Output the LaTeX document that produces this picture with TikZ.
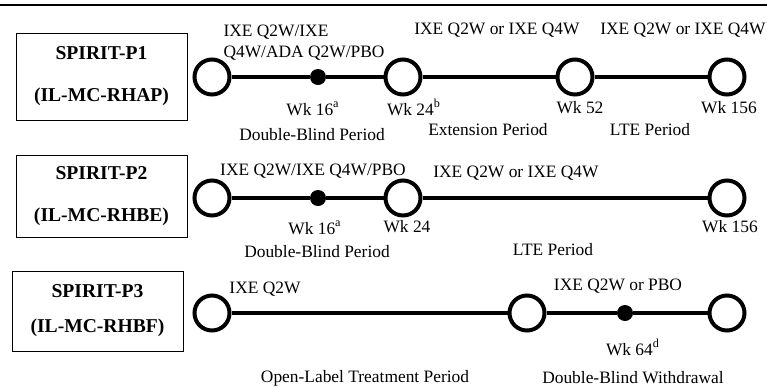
\documentclass[tikz,border=0pt]{standalone}
\usepackage{fontspec}
\setmainfont{Liberation Serif}
\begin{document}
\begin{tikzpicture}[x=0.5pt,y=-0.5pt,
    visit/.style={circle, draw, line width=2pt, fill=white, minimum size=17.5pt, inner sep=0pt},
    midvisit/.style={circle, fill=black, minimum size=8pt, inner sep=0pt},
    study/.style={draw, line width=0.5pt, minimum width=85.5pt, align=center, inner sep=0pt,
        font=\fontsize{9.8}{11}\selectfont\bfseries},
    lbl/.style={anchor=base, inner sep=0pt, font=\fontsize{8.7}{10.5}\selectfont},
    timeline/.style={line width=1.6pt}]

    \useasboundingbox (0,0) rectangle (767,387);
    \draw[line width=1pt] (0,5) -- (767,5);

    % SPIRIT-P1
    \node[study, minimum height=43.5pt] (box1) at (101.5,76.5) {SPIRIT-P1\\[10pt](IL-MC-RHAP)};
    \node[visit] (a0) at (212,77) {};
    \node[midvisit] (a16) at (318,77) {};
    \node[visit] (a24) at (403,77) {};
    \node[visit] (a52) at (575,77) {};
    \node[visit] (a156) at (727,77) {};
    \draw[timeline] (a0) -- (a16) -- (a24) -- (a52) -- (a156);
    \node[anchor=center, align=left, inner sep=0pt, font=\fontsize{8.7}{10.5}\selectfont] (trt1) at (304,43) {IXE Q2W/IXE\\Q4W/ADA Q2W/PBO};
    \node[lbl] (ext1) at (497,34) {IXE Q2W or IXE Q4W};
    \node[lbl] (lte1) at (683,34) {IXE Q2W or IXE Q4W};
    \node[lbl] (wk16a) at (313,115) {Wk 16\textsuperscript{a}};
    \node[lbl] (wk24a) at (414,115) {Wk 24\textsuperscript{b}};
    \node[lbl] (wk52a) at (580,113) {Wk 52};
    \node[lbl] (wk156a) at (729,113) {Wk 156};
    \node[lbl] (db1) at (312,140) {Double-Blind Period};
    \node[lbl] (ep1) at (488,135) {Extension Period};
    \node[lbl] (lp1) at (650,135) {LTE Period};

    % SPIRIT-P2
    \node[study, minimum height=41pt] (box2) at (101.5,196) {SPIRIT-P2\\[10pt](IL-MC-RHBE)};
    \node[visit] (b0) at (212,198) {};
    \node[midvisit] (b16) at (318,198) {};
    \node[visit] (b24) at (403,198) {};
    \node[visit] (b156) at (727,198) {};
    \draw[timeline] (b0) -- (b16) -- (b24) -- (b156);
    \node[lbl] (trt2) at (313,175) {IXE Q2W/IXE Q4W/PBO};
    \node[lbl] (lte2) at (516,177) {IXE Q2W or IXE Q4W};
    \node[lbl] (wk16b) at (315,234) {Wk 16\textsuperscript{a}};
    \node[lbl] (wk24b) at (407,232) {Wk 24};
    \node[lbl] (wk156b) at (730,232) {Wk 156};
    \node[lbl] (db2) at (317,257) {Double-Blind Period};
    \node[lbl] (lp2) at (553,255) {LTE Period};

    % SPIRIT-P3
    \node[study, minimum height=40pt] (box3) at (97.5,311) {SPIRIT-P3\\[6.5pt](IL-MC-RHBF)};
    \node[visit] (c0) at (212,313) {};
    \node[visit] (c52) at (527,313) {};
    \node[midvisit] (c64) at (625,313) {};
    \node[visit] (c104) at (727,313) {};
    \draw[timeline] (c0) -- (c52) -- (c64) -- (c104);
    \node[lbl] (trt3) at (265,293) {IXE Q2W};
    \node[lbl] (rw3) at (618,290) {IXE Q2W or PBO};
    \node[lbl] (wk64c) at (633,355) {Wk 64\textsuperscript{d}};
    \node[lbl] (ol3) at (365,382) {Open-Label Treatment Period};
    \node[lbl] (dbw3) at (633,383) {Double-Blind Withdrawal};

\end{tikzpicture}
\end{document}
